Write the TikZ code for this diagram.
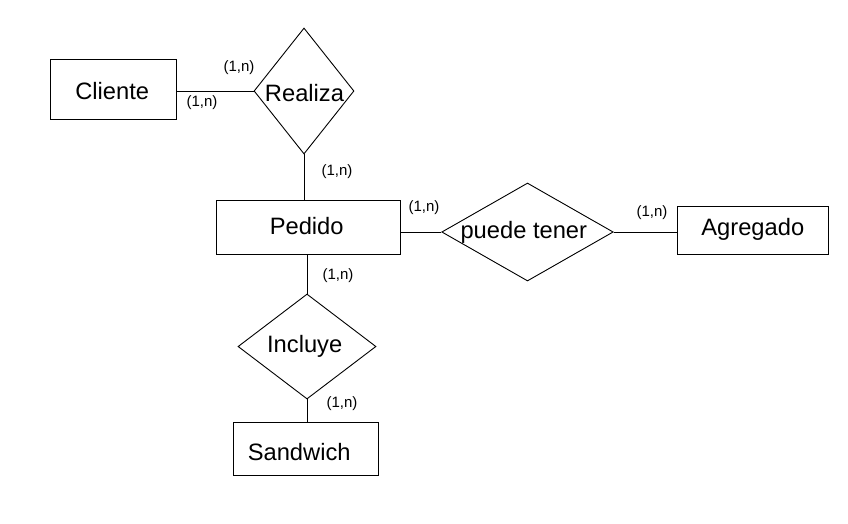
\documentclass[tikz,border=0pt]{standalone}
\usepackage{fontspec}
\setmainfont{Liberation Sans}
\usetikzlibrary{shapes.geometric,calc}
\tikzset{
  entity/.style={draw, line width=0.9pt, rectangle, inner sep=0pt},
  relation/.style={draw, line width=0.9pt, diamond, inner sep=0pt},
  ertext/.style={font=\fontsize{23.7}{28}\selectfont, anchor=base, inner sep=0pt},
  card/.style={font=\fontsize{15}{17}\selectfont, inner sep=0pt},
  conn/.style={line width=0.9pt}
}
\begin{document}
\begin{tikzpicture}[x=1pt,y=-1pt]
\useasboundingbox[fill=white] (0,0) rectangle (848,523);
% shapes
\node[entity, minimum width=126, minimum height=60] (cliente) at (113.5,89) {};
\node[relation, minimum width=100, minimum height=126] (realiza) at (304,91) {};
\node[entity, minimum width=184.7, minimum height=54] (pedido) at (308.3,227) {};
\node[relation, minimum width=171.5, minimum height=98] (puede) at (527.5,232) {};
\node[entity, minimum width=151, minimum height=48] (agregado) at (752.5,230) {};
\node[relation, minimum width=138, minimum height=105] (incluye) at (307,346.5) {};
\node[entity, minimum width=145, minimum height=53] (sandwich) at (305.5,448.5) {};
% names
\node[ertext] (tcliente) at (112.2,99.3) {Cliente};
\node[ertext] (trealiza) at (304.5,101.7) {Realiza};
\node[ertext] (tpedido) at (306.7,234) {Pedido};
\node[ertext] (tpuede) at (523.8,238.5) {puede tener};
\node[ertext] (tagregado) at (752.8,235) {Agregado};
\node[ertext] (tincluye) at (304.7,352.3) {Incluye};
\node[ertext] (tsandwich) at (299.2,460) {Sandwich};
% connectors
\draw[conn] (cliente.east |- realiza.west) -- (realiza.west);
\draw[conn] (realiza.south) -- (realiza.south |- pedido.north);
\draw[conn] (pedido.east |- puede.west) -- (puede.west);
\draw[conn] (puede.east) -- (puede.east -| agregado.west);
\draw[conn] (incluye.north |- pedido.south) -- (incluye.north);
\draw[conn] (incluye.south) -- (incluye.south |- sandwich.north);
% cardinalities
\node[card] (c1) at (239,68) {(1,n)};
\node[card] (c2) at (202,103) {(1,n)};
\node[card] (c3) at (337,172) {(1,n)};
\node[card] (c4) at (424,208) {(1,n)};
\node[card] (c5) at (652,213) {(1,n)};
\node[card] (c6) at (338,276) {(1,n)};
\node[card] (c7) at (342,404) {(1,n)};
\end{tikzpicture}
\end{document}
